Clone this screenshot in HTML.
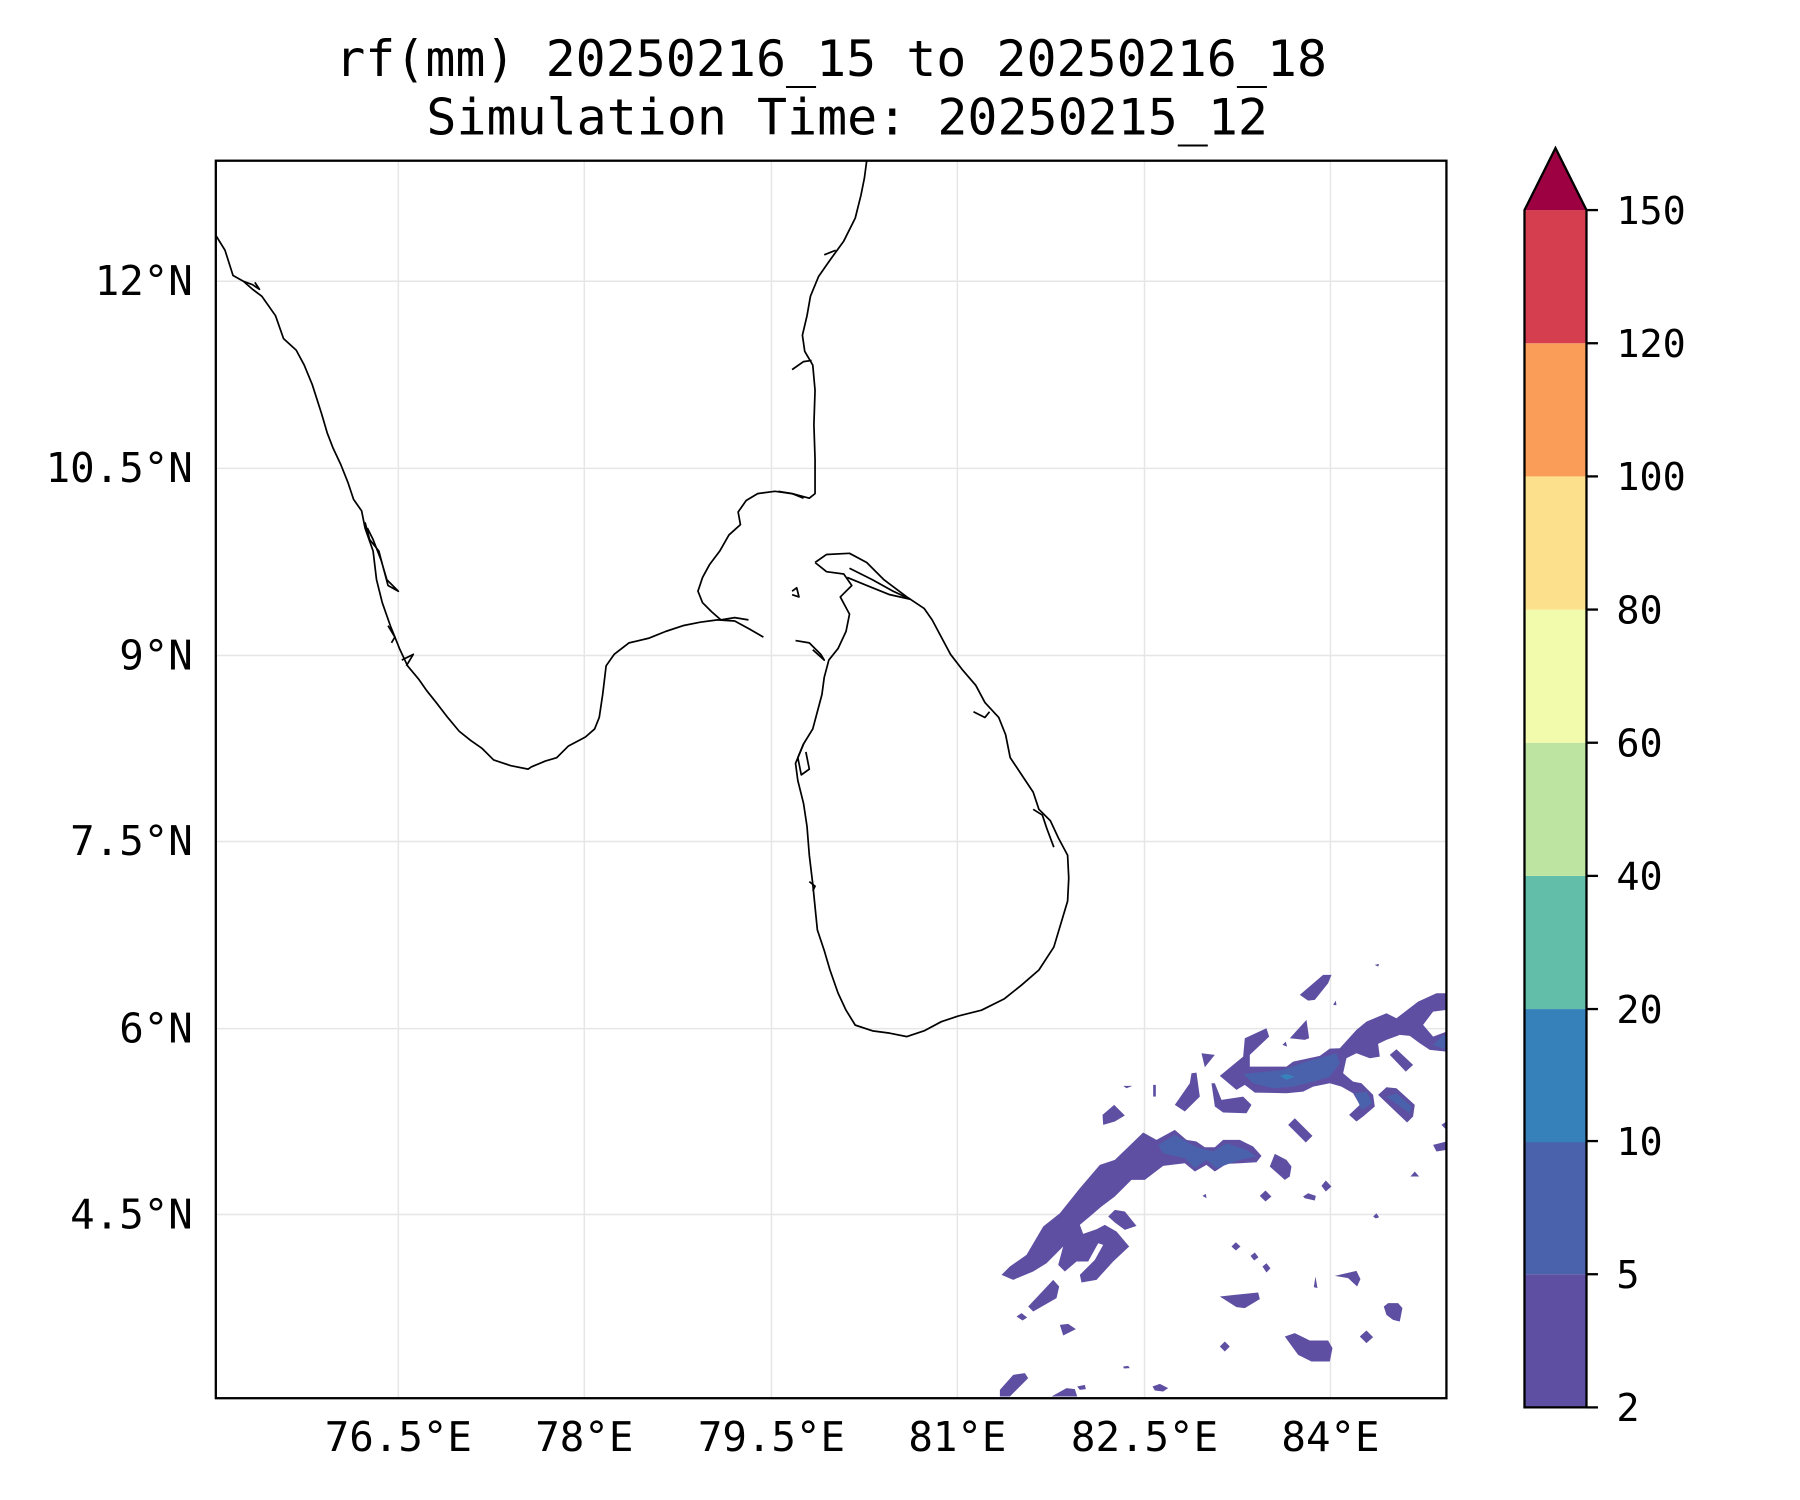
<!DOCTYPE html>
<html><head><meta charset="utf-8"><style>
html,body{margin:0;padding:0;background:#fff}
svg{display:block}
text{font-family:"DejaVu Sans Mono","Liberation Mono",monospace;fill:#000}
</style></head><body>
<svg width="1800" height="1500" viewBox="0 0 1568 1306.67" xmlns="http://www.w3.org/2000/svg">
<rect width="1568" height="1306.67" fill="#fff"/>
<text x="724" y="66" font-size="43.5" text-anchor="middle">rf(mm) 20250216_15 to 20250216_18</text>
<text x="738" y="117" font-size="43.5" text-anchor="middle">Simulation Time: 20250215_12</text>
<defs><clipPath id="c"><rect x="188" y="140" width="1072" height="1078"/></clipPath></defs>
<g stroke="#e6e6e6" stroke-width="1.3">
<line x1="347" y1="140" x2="347" y2="1218"/><line x1="509" y1="140" x2="509" y2="1218"/><line x1="672" y1="140" x2="672" y2="1218"/><line x1="834" y1="140" x2="834" y2="1218"/><line x1="997" y1="140" x2="997" y2="1218"/><line x1="1159" y1="140" x2="1159" y2="1218"/>
<line x1="188" y1="245" x2="1260" y2="245"/><line x1="188" y1="408" x2="1260" y2="408"/><line x1="188" y1="571" x2="1260" y2="571"/><line x1="188" y1="733" x2="1260" y2="733"/><line x1="188" y1="896" x2="1260" y2="896"/><line x1="188" y1="1058" x2="1260" y2="1058"/>
</g>
<g clip-path="url(#c)">
<g transform="translate(871,827.5) scale(0.2903)" fill="#5e4fa2">
<polygon points="5,975 30,950 80,915 130,830 180,790 240,715 300,645 345,630 430,548 470,570 525,540 560,570 590,575 615,592 645,592 670,570 720,570 760,590 785,618 770,637 720,640 680,642 645,665 620,645 585,665 555,640 490,648 435,690 395,690 345,740 305,770 270,800 240,825 250,852 290,838 315,825 350,845 388,890 340,935 290,990 245,998 240,975 285,930 310,885 295,880 265,935 230,935 195,965 175,945 190,890 140,940 100,965 40,990"/>
<polygon points="325,800 345,780 375,785 410,828 375,840 345,818"/>
<polygon points="660,378 730,320 735,265 800,235 808,260 750,315 750,350 860,350 880,335 960,318 990,296 1020,295 1070,240 1100,215 1160,190 1190,205 1255,155 1310,130 1340,130 1340,180 1300,185 1270,225 1300,260 1340,245 1340,305 1290,300 1260,280 1230,258 1200,255 1160,270 1135,282 1140,320 1110,325 1070,310 1040,325 1030,370 1060,395 1085,400 1120,435 1125,470 1090,500 1070,515 1048,495 1080,465 1060,430 1025,410 990,400 940,410 910,425 860,430 765,428 735,405 710,420"/>
<polygon points="635,400 645,400 665,450 730,440 755,465 740,490 670,488 645,470"/>
<polygon points="525,465 570,400 575,370 590,368 600,440 555,485"/>
<polygon points="605,310 645,315 615,352"/>
<polygon points="870,265 920,210 928,265 915,270"/>
<polygon points="900,135 970,75 995,75 985,100 945,150 925,152"/>
<polygon points="1135,435 1160,412 1190,415 1245,465 1240,500 1222,518"/>
<polygon points="1170,315 1190,298 1240,345 1218,365"/>
<polygon points="865,525 885,505 938,558 918,578"/>
<polygon points="810,650 825,612 860,630 875,650 870,680 855,690"/>
<polygon points="965,708 978,692 995,710 978,725"/>
<polygon points="780,738 797,722 815,740 797,755"/>
<polygon points="910,740 925,730 948,738 945,752 915,745"/>
<polygon points="1245,665 1258,680 1232,680"/>
<polygon points="1300,585 1340,575 1340,600 1310,605"/>
<polygon points="1325,525 1340,515 1340,540"/>
<polygon points="308,495 343,465 375,497 345,515 310,525"/>
<polygon points="460,405 468,405 468,440 460,440"/>
<polygon points="370,408 398,408 380,415"/>
<polygon points="85,1070 160,990 178,1010 170,1045 100,1085"/>
<polygon points="50,1100 65,1090 82,1103 68,1112"/>
<polygon points="180,1125 205,1122 228,1138 190,1157"/>
<polygon points="0,1320 40,1275 75,1270 85,1285 30,1340 0,1340"/>
<polygon points="155,1340 200,1315 225,1318 232,1340"/>
<polygon points="232,1310 255,1305 258,1318 240,1320"/>
<polygon points="458,1310 480,1302 505,1315 490,1325 465,1322"/>
<polygon points="660,1040 705,1035 775,1028 780,1048 735,1075 710,1072"/>
<polygon points="855,1160 885,1150 930,1172 985,1172 998,1195 990,1235 935,1235 895,1215"/>
<polygon points="1152,1070 1165,1060 1195,1060 1208,1075 1200,1115 1180,1110 1160,1095"/>
<polygon points="1005,978 1070,963 1082,988 1072,1010 1045,985"/>
<polygon points="1080,1160 1100,1142 1120,1162 1100,1180"/>
<polygon points="660,1190 675,1175 690,1190 675,1205"/>
<polygon points="695,890 708,877 722,890 708,902"/>
<polygon points="752,918 765,908 776,922 763,932"/>
<polygon points="788,950 800,940 812,955 800,968"/>
<polygon points="942,1012 947,980 953,1015"/>
<polygon points="370,1250 385,1248 390,1255 372,1256"/>
<polygon points="1125,45 1138,42 1135,50"/>
<polygon points="1000,165 1008,152 1010,166"/>
<polygon points="848,285 858,275 862,290"/>
<polygon points="608,738 618,732 620,745"/>
<polygon points="1120,800 1130,790 1138,802 1128,806"/>
<polygon fill="#4a62ab" points="475,585 525,555 585,590 640,605 680,580 740,600 770,620 720,630 650,655 620,630 585,655 555,625 490,610"/>
<polygon fill="#4a62ab" points="730,372 850,360 920,335 1010,310 1020,340 990,380 940,395 880,410 820,415 760,400"/>
<polygon fill="#4a62ab" points="1065,430 1100,425 1118,460 1085,480"/>
<polygon fill="#4a62ab" points="1160,440 1190,430 1235,470 1230,490"/>
<polygon fill="#4a62ab" points="1300,285 1330,255 1340,260 1340,300"/>
<polygon fill="#3682ba" points="840,378 860,372 885,380 860,390"/>
</g>
<g fill="none" stroke="#000" stroke-width="1.5" stroke-linejoin="round">
<polyline points="188,205 196,218 203,240 212,245 220,252 228,258 240,275 247,295 258,305 265,318 272,335 280,360 285,377 290,390 297,405 303,420 308,435 315,445 318,460 325,480 328,505 333,525 340,545 348,565 355,580 365,592 372,602 380,612 390,625 400,637 410,645 420,652 430,662 445,667 460,670 463,668 475,663 485,660 495,650 510,642 518,635 522,625 525,605 528,580 535,570 548,560 565,556 580,550 595,545 610,542 625,540 640,541 653,548 665,555"/>
<polyline points="318,455 322,470 330,480 334,495 338,510 347,515 337,505 332,488 325,470 320,460"/>
<polyline points="212,245 220,248 226,252 222,246"/>
<polyline points="338,545 344,555 341,560"/>
<polyline points="350,575 360,570 354,580"/>
<polyline points="652,540 640,538 628,540 620,533 612,525 608,515 612,503 618,492 627,480 635,466 645,457 643,446 650,436 660,430 675,428 690,430 705,434 710,430 710,400 709,370 710,340 708,318 701,306 699,292 703,275 706,258 713,241 722,228 735,210 745,190 750,170 753,155 755,140"/>
<polyline points="690,322 700,315 707,314"/>
<polyline points="678,428 690,430 700,434"/>
<polyline points="718,222 728,218"/>
<polyline points="710,490 720,483 740,482 755,490 770,505 790,520 805,530 812,540 820,555 828,570 838,583 850,597 858,612 870,625 876,640 880,660 890,675 900,690 905,705 915,715 922,730 930,745 931,765 930,785 924,805 918,825 905,845 890,858 875,870 855,880 835,885 820,890 805,898 790,903 775,900 760,898 745,893 737,880 730,865 723,845 718,828 712,810 710,790 708,770 705,745 703,720 700,700 695,680 693,665 700,648 708,635 712,620 716,605 718,590 722,575 730,565 737,550 740,535 732,520 742,510 735,500 720,498 710,490"/>
<polyline points="740,495 760,505 778,515 793,522 775,518 755,510 738,503"/>
<polyline points="693,558 705,560 715,570 718,575 708,566"/>
<polyline points="700,648 695,660 698,675 705,670 702,655"/>
<polyline points="848,620 858,625 862,620"/>
<polyline points="900,705 908,710 912,722 918,738"/>
<polyline points="705,768 710,772 708,776"/>
<polyline points="690,515 694,512 696,520 690,518"/>
</g>
</g>
<rect x="188" y="140" width="1072" height="1078" fill="none" stroke="#000" stroke-width="2"/>
<g font-size="35.5" text-anchor="middle">
<text x="347" y="1264">76.5°E</text><text x="509" y="1264">78°E</text><text x="672" y="1264">79.5°E</text><text x="834" y="1264">81°E</text><text x="997" y="1264">82.5°E</text><text x="1159" y="1264">84°E</text>
</g>
<g font-size="35.5" text-anchor="end">
<text x="168" y="257">12°N</text><text x="168" y="420">10.5°N</text><text x="168" y="583">9°N</text><text x="168" y="745">7.5°N</text><text x="168" y="908">6°N</text><text x="168" y="1070">4.5°N</text>
</g>
<g>
<rect x="1328" y="1110" width="54" height="116" fill="#5e4fa2"/>
<rect x="1328" y="994" width="54" height="116" fill="#4a62ab"/>
<rect x="1328" y="879" width="54" height="116" fill="#3681b9"/>
<rect x="1328" y="763" width="54" height="116" fill="#62bda9"/>
<rect x="1328" y="647" width="54" height="116" fill="#bde4a0"/>
<rect x="1328" y="531" width="54" height="116" fill="#f2faac"/>
<rect x="1328" y="415" width="54" height="116" fill="#fde08b"/>
<rect x="1328" y="299" width="54" height="116" fill="#f99d59"/>
<rect x="1328" y="183" width="54" height="116" fill="#d53e4f"/>
<polygon points="1328,183 1355,129 1382,183" fill="#9e0142"/>
<polygon points="1328,1226 1328,183 1355,129 1382,183 1382,1226" fill="none" stroke="#000" stroke-width="2"/>
<g stroke="#000" stroke-width="2">
<line x1="1382" y1="183" x2="1392" y2="183"/><line x1="1382" y1="299" x2="1392" y2="299"/><line x1="1382" y1="415" x2="1392" y2="415"/><line x1="1382" y1="531" x2="1392" y2="531"/><line x1="1382" y1="647" x2="1392" y2="647"/><line x1="1382" y1="763" x2="1392" y2="763"/><line x1="1382" y1="879" x2="1392" y2="879"/><line x1="1382" y1="994" x2="1392" y2="994"/><line x1="1382" y1="1110" x2="1392" y2="1110"/><line x1="1382" y1="1226" x2="1392" y2="1226"/>
</g>
<g font-size="33.5">
<text x="1408" y="195">150</text><text x="1408" y="311">120</text><text x="1408" y="427">100</text><text x="1408" y="543">80</text><text x="1408" y="659">60</text><text x="1408" y="775">40</text><text x="1408" y="891">20</text><text x="1408" y="1006">10</text><text x="1408" y="1122">5</text><text x="1408" y="1238">2</text>
</g>
</g>
</svg>
</body></html>
